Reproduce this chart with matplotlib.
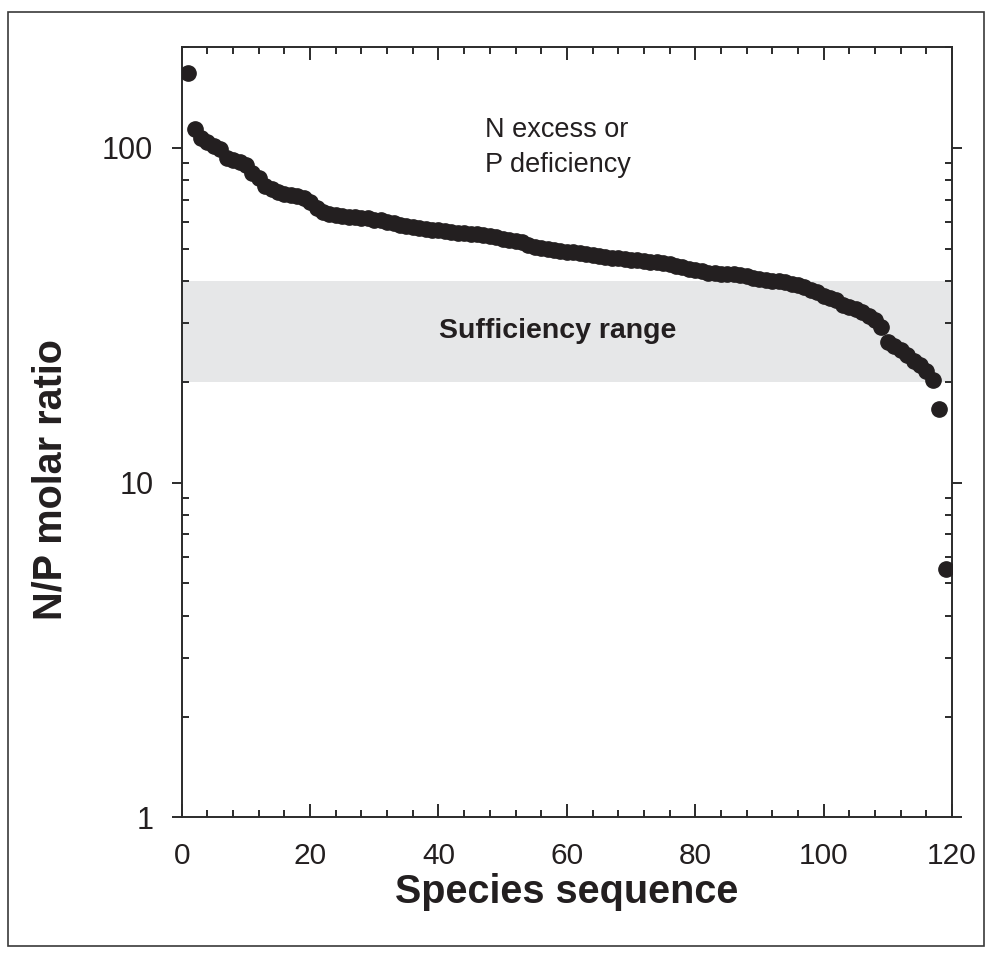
import matplotlib

matplotlib.use("Agg")
import matplotlib.pyplot as plt
from matplotlib.patches import Rectangle
from matplotlib.ticker import MultipleLocator, LogLocator, NullFormatter, FixedFormatter, FixedLocator

plt.rcParams["font.family"] = ["Liberation Sans", "DejaVu Sans"]

INK = "#231f20"
SPINE = "#2b2b2b"
BAND = "#e6e7e8"

# N/P molar ratio for each species, ranked from highest to lowest
species = list(range(1, 120))
np_ratio = [
    167, 114, 107, 104, 101, 99, 93, 92, 91, 89,
    84, 81, 77, 75.5, 74, 73, 72.5, 72, 71, 69,
    66, 64.5, 63.5, 63, 62.5, 62, 62, 61.8, 61.5, 61,
    60.7, 60.2, 59.5, 59, 58.5, 57.8, 57.5, 57.2, 57, 56.8,
    56.5, 56.2, 55.8, 55.5, 55.3, 55.1, 54.8, 54.4, 54, 53.4,
    53, 52.7, 52.4, 51.2, 50.7, 50.3, 49.9, 49.6, 49.3, 49,
    48.8, 48.4, 48.1, 47.8, 47.6, 47.3, 47, 46.8, 46.5, 46.3,
    46.1, 45.9, 45.7, 45.6, 45.3, 44.9, 44.3, 43.9, 43.4, 43.1,
    42.8, 42.4, 42.2, 42.1, 42, 41.9, 41.8, 41.3, 40.8, 40.5,
    40.3, 40.1, 40, 39.6, 39.2, 38.9, 38.5, 37.7, 37.0, 36.2,
    35.7, 35.2, 34.0, 33.5, 33.0, 32.4, 31.4, 30.5, 29.2, 26.3,
    25.6, 24.9, 24.0, 23.1, 22.4, 21.6, 20.3, 16.6, 5.5,
]

# sufficiency range of the N/P ratio
band_low, band_high = 20, 40

x_ticks = [0, 20, 40, 60, 80, 100, 120]
y_ticks = [1, 10, 100]
y_tick_labels = ["1", "10", "100"]

fig = plt.figure(figsize=(9.92, 9.58), dpi=100)
ax = fig.add_axes([0.1832, 0.1469, 0.7765, 0.804])

ax.axhspan(band_low, band_high, color=BAND, lw=0, zorder=1)
ax.plot(species, np_ratio, "o", ms=11, color=INK, mec=INK, zorder=3)

ax.set_yscale("log")
ax.set_xlim(0, 120)
ax.set_ylim(1, 200)

ax.xaxis.set_major_locator(FixedLocator(x_ticks))
ax.xaxis.set_minor_locator(MultipleLocator(4))
ax.yaxis.set_major_locator(FixedLocator(y_ticks))
ax.yaxis.set_major_formatter(FixedFormatter(y_tick_labels))
ax.yaxis.set_minor_locator(LogLocator(base=10, subs=range(2, 10)))
ax.yaxis.set_minor_formatter(NullFormatter())

ax.tick_params(axis="x", which="both", direction="in", top=True, bottom=True,
               colors=SPINE, labelcolor=INK, width=1.4, labelsize=21.5, pad=18)
ax.tick_params(axis="x", which="major", length=9.5)
ax.tick_params(axis="x", which="minor", length=5)
ax.tick_params(axis="y", which="major", direction="out", left=True, right=True,
               length=7.5, width=1.4, colors=SPINE, labelcolor=INK,
               labelsize=22, pad=13)
ax.tick_params(axis="y", which="minor", direction="in", left=True, right=True,
               length=5, width=1.4, colors=SPINE)

for spine in ax.spines.values():
    spine.set_linewidth(1.4)
    spine.set_color(SPINE)

ax.text(47.3, 100, "N excess or\nP deficiency", fontsize=19.5, color=INK,
        ha="left", va="center", linespacing=1.45)
ax.text(58.5, 28.3, "Sufficiency range", fontsize=20.5, fontweight="bold",
        color=INK, ha="center", va="center", zorder=4)

ax.set_xlabel("Species sequence", fontsize=28.5, fontweight="bold", color=INK)
ax.xaxis.set_label_coords(0.5, -0.097)
ax.xaxis.label.set_va("center")
ax.set_ylabel("N/P molar ratio", fontsize=28.5, fontweight="bold", color=INK)
ax.yaxis.set_label_coords(-0.171, 0.438)
ax.yaxis.label.set_va("center")

# thin frame around the whole figure
fig.patches.append(Rectangle((8 / 992, 1 - 946 / 958), 976 / 992, 934 / 958,
                             transform=fig.transFigure, fill=False,
                             edgecolor="#3a3a3a", linewidth=1.2))

fig.savefig("out.png", dpi=100)
